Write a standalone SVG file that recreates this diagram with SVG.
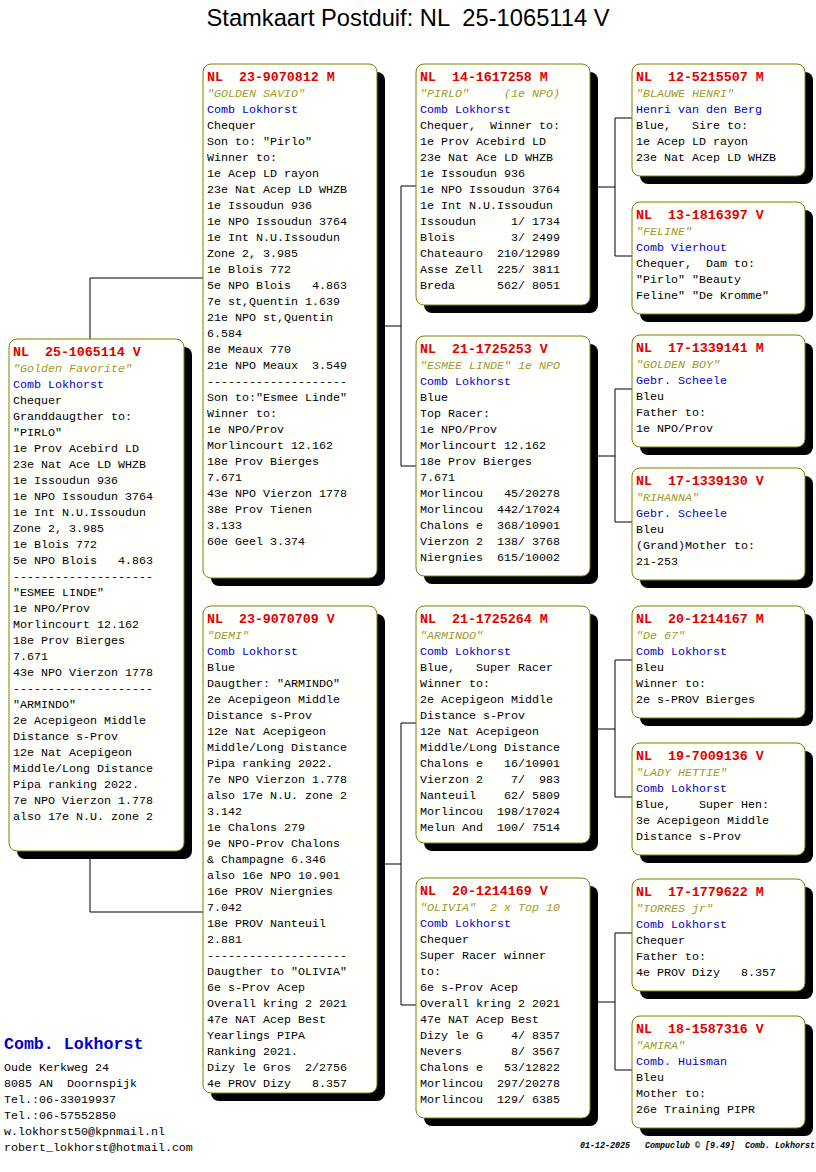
<svg xmlns="http://www.w3.org/2000/svg" width="816" height="1172" viewBox="0 0 816 1172">
<style>
.bg{fill:#ffffff}
.sh{fill:#000000}
.box{fill:#fffffb;stroke:#808000;stroke-width:1}
.c{fill:none;stroke:#000000;stroke-width:1}
text{white-space:pre}
.t{font-family:"Liberation Mono","Courier New",monospace;font-size:11.67px;fill:#000000}
.h{font-size:13.3px;font-weight:bold;fill:#e00000}
.n{font-style:italic;fill:#9c9a2c}
.b{fill:#0000cc}
.title{font-family:"Liberation Sans",Arial,sans-serif;font-size:23.7px;fill:#000000}
.org{font-family:"Liberation Mono","Courier New",monospace;font-size:16.6px;font-weight:bold;fill:#0000cc}
.ft{font-family:"Liberation Mono","Courier New",monospace;font-size:8.33px;font-style:italic;font-weight:bold;fill:#000000}
</style>
<rect class="bg" x="0" y="0" width="816" height="1172"/>
<text class="title" x="408" y="26" text-anchor="middle" xml:space="preserve">Stamkaart Postduif: NL  25-1065114 V</text>

<g id="connectors">
<path class="c" d="M90,339V278H203M90,851V912H203"/>
<path class="c" d="M377,326H401M401,186V466M401,186H416M401,466H416"/>
<path class="c" d="M377,864H401M401,723V1005M401,723H416M401,1005H416"/>
<path class="c" d="M590,187H615M615,118V256M615,118H632M615,256H632"/>
<path class="c" d="M590,456H615M615,389V522M615,389H632M615,522H632"/>
<path class="c" d="M590,729H615M615,660V797M615,660H632M615,797H632"/>
<path class="c" d="M590,1002H615M615,933V1070M615,933H632M615,1070H632"/>
</g>

<g id="n0">
<rect class="sh" x="17" y="347" width="175" height="512" rx="8"/>
<rect class="box" x="9" y="339" width="175" height="512" rx="8"/>
<text class="t" xml:space="preserve"><tspan class="h" x="13" y="356">NL  25-1065114 V</tspan><tspan class="n" x="13" y="372">"Golden Favorite"</tspan><tspan class="b" x="13" y="388">Comb Lokhorst</tspan><tspan x="13" y="404">Chequer</tspan><tspan x="13" y="420">Granddaugther to:</tspan><tspan x="13" y="436">"PIRLO"</tspan><tspan x="13" y="452">1e Prov Acebird LD</tspan><tspan x="13" y="468">23e Nat Ace LD WHZB</tspan><tspan x="13" y="484">1e Issoudun 936</tspan><tspan x="13" y="500">1e NPO Issoudun 3764</tspan><tspan x="13" y="516">1e Int N.U.Issoudun</tspan><tspan x="13" y="532">Zone 2, 3.985</tspan><tspan x="13" y="548">1e Blois 772</tspan><tspan x="13" y="564">5e NPO Blois   4.863</tspan><tspan x="13" y="580">--------------------</tspan><tspan x="13" y="596">"ESMEE LINDE"</tspan><tspan x="13" y="612">1e NPO/Prov</tspan><tspan x="13" y="628">Morlincourt 12.162</tspan><tspan x="13" y="644">18e Prov Bierges</tspan><tspan x="13" y="660">7.671</tspan><tspan x="13" y="676">43e NPO Vierzon 1778</tspan><tspan x="13" y="692">--------------------</tspan><tspan x="13" y="708">"ARMINDO"</tspan><tspan x="13" y="724">2e Acepigeon Middle</tspan><tspan x="13" y="740">Distance s-Prov</tspan><tspan x="13" y="756">12e Nat Acepigeon</tspan><tspan x="13" y="772">Middle/Long Distance</tspan><tspan x="13" y="788">Pipa ranking 2022.</tspan><tspan x="13" y="804">7e NPO Vierzon 1.778</tspan><tspan x="13" y="820">also 17e N.U. zone 2</tspan></text>
</g>

<g id="n1">
<rect class="sh" x="211" y="72" width="174" height="514" rx="8"/>
<rect class="box" x="203" y="64" width="174" height="514" rx="8"/>
<text class="t" xml:space="preserve"><tspan class="h" x="207" y="81">NL  23-9070812 M</tspan><tspan class="n" x="207" y="97">"GOLDEN SAVIO"</tspan><tspan class="b" x="207" y="113">Comb Lokhorst</tspan><tspan x="207" y="129">Chequer</tspan><tspan x="207" y="145">Son to: "Pirlo"</tspan><tspan x="207" y="161">Winner to:</tspan><tspan x="207" y="177">1e Acep LD rayon</tspan><tspan x="207" y="193">23e Nat Acep LD WHZB</tspan><tspan x="207" y="209">1e Issoudun 936</tspan><tspan x="207" y="225">1e NPO Issoudun 3764</tspan><tspan x="207" y="241">1e Int N.U.Issoudun</tspan><tspan x="207" y="257">Zone 2, 3.985</tspan><tspan x="207" y="273">1e Blois 772</tspan><tspan x="207" y="289">5e NPO Blois   4.863</tspan><tspan x="207" y="305">7e st,Quentin 1.639</tspan><tspan x="207" y="321">21e NPO st,Quentin</tspan><tspan x="207" y="337">6.584</tspan><tspan x="207" y="353">8e Meaux 770</tspan><tspan x="207" y="369">21e NPO Meaux  3.549</tspan><tspan x="207" y="385">--------------------</tspan><tspan x="207" y="401">Son to:"Esmee Linde"</tspan><tspan x="207" y="417">Winner to:</tspan><tspan x="207" y="433">1e NPO/Prov</tspan><tspan x="207" y="449">Morlincourt 12.162</tspan><tspan x="207" y="465">18e Prov Bierges</tspan><tspan x="207" y="481">7.671</tspan><tspan x="207" y="497">43e NPO Vierzon 1778</tspan><tspan x="207" y="513">38e Prov Tienen</tspan><tspan x="207" y="529">3.133</tspan><tspan x="207" y="545">60e Geel 3.374</tspan></text>
</g>

<g id="n2">
<rect class="sh" x="211" y="614" width="174" height="487" rx="8"/>
<rect class="box" x="203" y="606" width="174" height="487" rx="8"/>
<text class="t" xml:space="preserve"><tspan class="h" x="207" y="623">NL  23-9070709 V</tspan><tspan class="n" x="207" y="639">"DEMI"</tspan><tspan class="b" x="207" y="655">Comb Lokhorst</tspan><tspan x="207" y="671">Blue</tspan><tspan x="207" y="687">Daugther: "ARMINDO"</tspan><tspan x="207" y="703">2e Acepigeon Middle</tspan><tspan x="207" y="719">Distance s-Prov</tspan><tspan x="207" y="735">12e Nat Acepigeon</tspan><tspan x="207" y="751">Middle/Long Distance</tspan><tspan x="207" y="767">Pipa ranking 2022.</tspan><tspan x="207" y="783">7e NPO Vierzon 1.778</tspan><tspan x="207" y="799">also 17e N.U. zone 2</tspan><tspan x="207" y="815">3.142</tspan><tspan x="207" y="831">1e Chalons 279</tspan><tspan x="207" y="847">9e NPO-Prov Chalons</tspan><tspan x="207" y="863">&amp; Champagne 6.346</tspan><tspan x="207" y="879">also 16e NPO 10.901</tspan><tspan x="207" y="895">16e PROV Niergnies</tspan><tspan x="207" y="911">7.042</tspan><tspan x="207" y="927">18e PROV Nanteuil</tspan><tspan x="207" y="943">2.881</tspan><tspan x="207" y="959">--------------------</tspan><tspan x="207" y="975">Daugther to "OLIVIA"</tspan><tspan x="207" y="991">6e s-Prov Acep</tspan><tspan x="207" y="1007">Overall kring 2 2021</tspan><tspan x="207" y="1023">47e NAT Acep Best</tspan><tspan x="207" y="1039">Yearlings PIPA</tspan><tspan x="207" y="1055">Ranking 2021.</tspan><tspan x="207" y="1071">Dizy le Gros  2/2756</tspan><tspan x="207" y="1087">4e PROV Dizy   8.357</tspan></text>
</g>

<g id="n3">
<rect class="sh" x="424" y="72" width="174" height="241" rx="8"/>
<rect class="box" x="416" y="64" width="174" height="241" rx="8"/>
<text class="t" xml:space="preserve"><tspan class="h" x="420" y="81">NL  14-1617258 M</tspan><tspan class="n" x="420" y="97">"PIRLO"     (1e NPO)</tspan><tspan class="b" x="420" y="113">Comb Lokhorst</tspan><tspan x="420" y="129">Chequer,  Winner to:</tspan><tspan x="420" y="145">1e Prov Acebird LD</tspan><tspan x="420" y="161">23e Nat Ace LD WHZB</tspan><tspan x="420" y="177">1e Issoudun 936</tspan><tspan x="420" y="193">1e NPO Issoudun 3764</tspan><tspan x="420" y="209">1e Int N.U.Issoudun</tspan><tspan x="420" y="225">Issoudun     1/ 1734</tspan><tspan x="420" y="241">Blois        3/ 2499</tspan><tspan x="420" y="257">Chateauro  210/12989</tspan><tspan x="420" y="273">Asse Zell  225/ 3811</tspan><tspan x="420" y="289">Breda      562/ 8051</tspan></text>
</g>

<g id="n4">
<rect class="sh" x="424" y="344" width="174" height="240" rx="8"/>
<rect class="box" x="416" y="336" width="174" height="240" rx="8"/>
<text class="t" xml:space="preserve"><tspan class="h" x="420" y="353">NL  21-1725253 V</tspan><tspan class="n" x="420" y="369">"ESMEE LINDE" 1e NPO</tspan><tspan class="b" x="420" y="385">Comb Lokhorst</tspan><tspan x="420" y="401">Blue</tspan><tspan x="420" y="417">Top Racer:</tspan><tspan x="420" y="433">1e NPO/Prov</tspan><tspan x="420" y="449">Morlincourt 12.162</tspan><tspan x="420" y="465">18e Prov Bierges</tspan><tspan x="420" y="481">7.671</tspan><tspan x="420" y="497">Morlincou   45/20278</tspan><tspan x="420" y="513">Morlincou  442/17024</tspan><tspan x="420" y="529">Chalons e  368/10901</tspan><tspan x="420" y="545">Vierzon 2  138/ 3768</tspan><tspan x="420" y="561">Niergnies  615/10002</tspan></text>
</g>

<g id="n5">
<rect class="sh" x="424" y="614" width="174" height="237" rx="8"/>
<rect class="box" x="416" y="606" width="174" height="237" rx="8"/>
<text class="t" xml:space="preserve"><tspan class="h" x="420" y="623">NL  21-1725264 M</tspan><tspan class="n" x="420" y="639">"ARMINDO"</tspan><tspan class="b" x="420" y="655">Comb Lokhorst</tspan><tspan x="420" y="671">Blue,   Super Racer</tspan><tspan x="420" y="687">Winner to:</tspan><tspan x="420" y="703">2e Acepigeon Middle</tspan><tspan x="420" y="719">Distance s-Prov</tspan><tspan x="420" y="735">12e Nat Acepigeon</tspan><tspan x="420" y="751">Middle/Long Distance</tspan><tspan x="420" y="767">Chalons e   16/10901</tspan><tspan x="420" y="783">Vierzon 2    7/  983</tspan><tspan x="420" y="799">Nanteuil    62/ 5809</tspan><tspan x="420" y="815">Morlincou  198/17024</tspan><tspan x="420" y="831">Melun And  100/ 7514</tspan></text>
</g>

<g id="n6">
<rect class="sh" x="424" y="886" width="174" height="240" rx="8"/>
<rect class="box" x="416" y="878" width="174" height="240" rx="8"/>
<text class="t" xml:space="preserve"><tspan class="h" x="420" y="895">NL  20-1214169 V</tspan><tspan class="n" x="420" y="911">"OLIVIA"  2 x Top 10</tspan><tspan class="b" x="420" y="927">Comb Lokhorst</tspan><tspan x="420" y="943">Chequer</tspan><tspan x="420" y="959">Super Racer winner</tspan><tspan x="420" y="975">to:</tspan><tspan x="420" y="991">6e s-Prov Acep</tspan><tspan x="420" y="1007">Overall kring 2 2021</tspan><tspan x="420" y="1023">47e NAT Acep Best</tspan><tspan x="420" y="1039">Dizy le G    4/ 8357</tspan><tspan x="420" y="1055">Nevers       8/ 3567</tspan><tspan x="420" y="1071">Chalons e   53/12822</tspan><tspan x="420" y="1087">Morlincou  297/20278</tspan><tspan x="420" y="1103">Morlincou  129/ 6385</tspan></text>
</g>

<g id="n7">
<rect class="sh" x="640" y="72" width="173" height="112" rx="8"/>
<rect class="box" x="632" y="64" width="173" height="112" rx="8"/>
<text class="t" xml:space="preserve"><tspan class="h" x="636" y="81">NL  12-5215507 M</tspan><tspan class="n" x="636" y="97">"BLAUWE HENRI"</tspan><tspan class="b" x="636" y="113">Henri van den Berg</tspan><tspan x="636" y="129">Blue,   Sire to:</tspan><tspan x="636" y="145">1e Acep LD rayon</tspan><tspan x="636" y="161">23e Nat Acep LD WHZB</tspan></text>
</g>

<g id="n8">
<rect class="sh" x="640" y="210" width="173" height="112" rx="8"/>
<rect class="box" x="632" y="202" width="173" height="112" rx="8"/>
<text class="t" xml:space="preserve"><tspan class="h" x="636" y="219">NL  13-1816397 V</tspan><tspan class="n" x="636" y="235">"FELINE"</tspan><tspan class="b" x="636" y="251">Comb Vierhout</tspan><tspan x="636" y="267">Chequer,  Dam to:</tspan><tspan x="636" y="283">"Pirlo" "Beauty</tspan><tspan x="636" y="299">Feline" "De Kromme"</tspan></text>
</g>

<g id="n9">
<rect class="sh" x="640" y="343" width="173" height="112" rx="8"/>
<rect class="box" x="632" y="335" width="173" height="112" rx="8"/>
<text class="t" xml:space="preserve"><tspan class="h" x="636" y="352">NL  17-1339141 M</tspan><tspan class="n" x="636" y="368">"GOLDEN BOY"</tspan><tspan class="b" x="636" y="384">Gebr. Scheele</tspan><tspan x="636" y="400">Bleu</tspan><tspan x="636" y="416">Father to:</tspan><tspan x="636" y="432">1e NPO/Prov</tspan></text>
</g>

<g id="n10">
<rect class="sh" x="640" y="476" width="173" height="112" rx="8"/>
<rect class="box" x="632" y="468" width="173" height="112" rx="8"/>
<text class="t" xml:space="preserve"><tspan class="h" x="636" y="485">NL  17-1339130 V</tspan><tspan class="n" x="636" y="501">"RIHANNA"</tspan><tspan class="b" x="636" y="517">Gebr. Scheele</tspan><tspan x="636" y="533">Bleu</tspan><tspan x="636" y="549">(Grand)Mother to:</tspan><tspan x="636" y="565">21-253</tspan></text>
</g>

<g id="n11">
<rect class="sh" x="640" y="614" width="173" height="112" rx="8"/>
<rect class="box" x="632" y="606" width="173" height="112" rx="8"/>
<text class="t" xml:space="preserve"><tspan class="h" x="636" y="623">NL  20-1214167 M</tspan><tspan class="n" x="636" y="639">"De 67"</tspan><tspan class="b" x="636" y="655">Comb Lokhorst</tspan><tspan x="636" y="671">Bleu</tspan><tspan x="636" y="687">Winner to:</tspan><tspan x="636" y="703">2e s-PROV Bierges</tspan></text>
</g>

<g id="n12">
<rect class="sh" x="640" y="751" width="173" height="112" rx="8"/>
<rect class="box" x="632" y="743" width="173" height="112" rx="8"/>
<text class="t" xml:space="preserve"><tspan class="h" x="636" y="760">NL  19-7009136 V</tspan><tspan class="n" x="636" y="776">"LADY HETTIE"</tspan><tspan class="b" x="636" y="792">Comb Lokhorst</tspan><tspan x="636" y="808">Blue,    Super Hen:</tspan><tspan x="636" y="824">3e Acepigeon Middle</tspan><tspan x="636" y="840">Distance s-Prov</tspan></text>
</g>

<g id="n13">
<rect class="sh" x="640" y="887" width="173" height="112" rx="8"/>
<rect class="box" x="632" y="879" width="173" height="112" rx="8"/>
<text class="t" xml:space="preserve"><tspan class="h" x="636" y="896">NL  17-1779622 M</tspan><tspan class="n" x="636" y="912">"TORRES jr"</tspan><tspan class="b" x="636" y="928">Comb Lokhorst</tspan><tspan x="636" y="944">Chequer</tspan><tspan x="636" y="960">Father to:</tspan><tspan x="636" y="976">4e PROV Dizy   8.357</tspan></text>
</g>

<g id="n14">
<rect class="sh" x="640" y="1024" width="173" height="112" rx="8"/>
<rect class="box" x="632" y="1016" width="173" height="112" rx="8"/>
<text class="t" xml:space="preserve"><tspan class="h" x="636" y="1033">NL  18-1587316 V</tspan><tspan class="n" x="636" y="1049">"AMIRA"</tspan><tspan class="b" x="636" y="1065">Comb. Huisman</tspan><tspan x="636" y="1081">Bleu</tspan><tspan x="636" y="1097">Mother to:</tspan><tspan x="636" y="1113">26e Training PIPR</tspan></text>
</g>

<g id="contact">
<text class="org" x="4" y="1049" xml:space="preserve">Comb. Lokhorst</text>
<text class="t" xml:space="preserve"><tspan x="4" y="1071">Oude Kerkweg 24</tspan><tspan x="4" y="1087">8085 AN  Doornspijk</tspan><tspan x="4" y="1103">Tel.:06-33019937</tspan><tspan x="4" y="1119">Tel.:06-57552850</tspan><tspan x="4" y="1135">w.lokhorst50@kpnmail.nl</tspan><tspan x="4" y="1151">robert_lokhorst@hotmail.com</tspan></text>
</g>

<text class="ft" x="580" y="1148" xml:space="preserve">01-12-2025   Compuclub © [9.49]  Comb. Lokhorst</text>
</svg>
